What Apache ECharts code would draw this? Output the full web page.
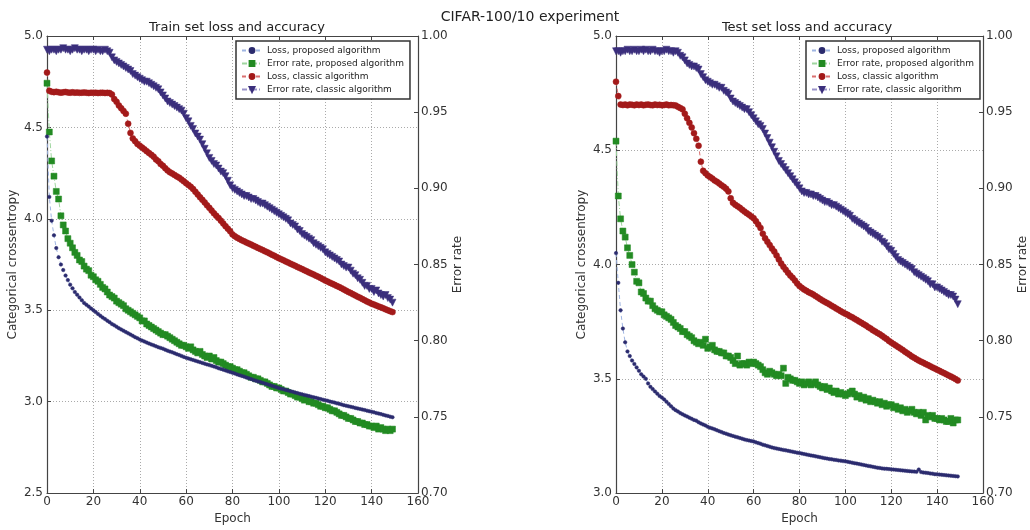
<!DOCTYPE html>
<html><head><meta charset="utf-8">
<script src="https://cdn.jsdelivr.net/npm/echarts@6/dist/echarts.min.js"></script>
<style>html,body{margin:0;padding:0;background:#fff}#c{width:1030px;height:530px}</style>
</head><body><div id="c"></div>
<script>
const seriesNames = ['Loss, proposed algorithm','Error rate, proposed algorithm','Loss, classic algorithm','Error rate, classic algorithm'];
const xTicks = [0,20,40,60,80,100,120,140,160];

// Train set
const trainLossProposed = [4.45,4.12,3.99,3.91,3.84,3.79,3.75,3.72,3.69,3.665,
3.64,3.62,3.60,3.585,3.57,3.555,3.54,3.53,3.52,3.51,
3.50,3.49,3.48,3.47,3.46,3.452,3.443,3.435,3.425,3.418,
3.41,3.402,3.395,3.388,3.381,3.374,3.367,3.36,3.353,3.347,
3.34,3.334,3.329,3.323,3.318,3.313,3.308,3.303,3.298,3.294,
3.29,3.284,3.279,3.274,3.27,3.265,3.26,3.255,3.25,3.245,
3.24,3.236,3.232,3.228,3.224,3.22,3.216,3.212,3.208,3.204,
3.20,3.196,3.192,3.188,3.183,3.179,3.175,3.171,3.166,3.162,
3.158,3.154,3.149,3.145,3.141,3.137,3.132,3.128,3.124,3.119,
3.115,3.111,3.107,3.103,3.099,3.095,3.091,3.087,3.083,3.079,
3.075,3.071,3.068,3.064,3.061,3.057,3.054,3.05,3.047,3.043,
3.04,3.037,3.034,3.031,3.027,3.024,3.021,3.018,3.014,3.011,
3.008,3.005,3.001,2.998,2.995,2.991,2.988,2.985,2.981,2.978,
2.975,2.972,2.969,2.966,2.963,2.96,2.957,2.954,2.951,2.948,
2.945,2.942,2.938,2.935,2.932,2.928,2.925,2.922,2.918,2.915];
const trainErrProposed = [0.969,0.937,0.918,0.908,0.898,0.893,0.882,0.876,0.872,0.867,
0.864,0.861,0.858,0.856,0.853,0.852,0.849,0.847,0.846,0.843,
0.842,0.840,0.839,0.837,0.835,0.834,0.832,0.830,0.829,0.828,
0.826,0.825,0.824,0.823,0.821,0.820,0.819,0.818,0.817,0.816,
0.815,0.813,0.813,0.811,0.810,0.809,0.808,0.807,0.806,0.805,
0.804,0.804,0.803,0.802,0.801,0.800,0.799,0.798,0.797,0.797,
0.796,0.795,0.796,0.794,0.793,0.792,0.793,0.791,0.790,0.789,
0.790,0.788,0.789,0.787,0.786,0.786,0.785,0.784,0.783,0.783,
0.782,0.781,0.781,0.780,0.779,0.779,0.778,0.777,0.776,0.776,
0.775,0.775,0.774,0.773,0.773,0.772,0.771,0.770,0.770,0.769,
0.769,0.768,0.767,0.767,0.766,0.765,0.765,0.764,0.763,0.763,
0.762,0.761,0.762,0.760,0.760,0.759,0.759,0.758,0.757,0.757,
0.756,0.756,0.755,0.754,0.754,0.753,0.752,0.751,0.751,0.750,
0.749,0.749,0.748,0.747,0.747,0.746,0.746,0.745,0.745,0.744,
0.744,0.743,0.744,0.742,0.743,0.742,0.741,0.742,0.741,0.742];
const trainLossClassic = [4.80,4.70,4.695,4.693,4.695,4.692,4.69,4.692,4.694,4.691,
4.69,4.692,4.69,4.691,4.689,4.69,4.691,4.69,4.688,4.69,
4.689,4.69,4.688,4.689,4.69,4.688,4.689,4.688,4.68,4.655,
4.64,4.62,4.605,4.59,4.575,4.52,4.47,4.44,4.425,4.41,
4.40,4.39,4.38,4.37,4.36,4.35,4.34,4.325,4.315,4.30,
4.29,4.277,4.265,4.255,4.248,4.24,4.232,4.225,4.215,4.205,
4.195,4.185,4.175,4.163,4.148,4.133,4.118,4.104,4.09,4.074,
4.06,4.045,4.03,4.017,4.004,3.99,3.975,3.96,3.946,3.932,
3.915,3.905,3.897,3.89,3.883,3.877,3.871,3.865,3.859,3.853,
3.847,3.841,3.835,3.829,3.823,3.817,3.811,3.804,3.798,3.791,
3.785,3.779,3.773,3.767,3.761,3.755,3.749,3.743,3.737,3.731,
3.725,3.719,3.713,3.707,3.701,3.695,3.689,3.683,3.677,3.67,
3.663,3.657,3.651,3.645,3.639,3.633,3.627,3.621,3.614,3.607,
3.60,3.594,3.587,3.581,3.574,3.568,3.561,3.555,3.548,3.542,
3.536,3.531,3.526,3.521,3.516,3.511,3.505,3.50,3.495,3.49];
const trainErrClassic = [0.991,0.990,0.991,0.991,0.990,0.991,0.991,0.992,0.991,0.991,
0.990,0.991,0.992,0.991,0.991,0.990,0.991,0.991,0.990,0.991,
0.991,0.990,0.991,0.990,0.990,0.991,0.990,0.989,0.986,0.984,
0.983,0.982,0.981,0.980,0.979,0.978,0.977,0.975,0.974,0.973,
0.972,0.971,0.970,0.970,0.969,0.968,0.967,0.966,0.965,0.963,
0.961,0.959,0.957,0.956,0.955,0.954,0.953,0.952,0.951,0.949,
0.946,0.944,0.941,0.939,0.936,0.934,0.932,0.929,0.926,0.923,
0.920,0.918,0.916,0.915,0.913,0.911,0.910,0.908,0.905,0.902,
0.900,0.899,0.898,0.897,0.896,0.895,0.895,0.894,0.893,0.893,
0.892,0.891,0.890,0.890,0.889,0.888,0.887,0.886,0.885,0.884,
0.883,0.882,0.881,0.880,0.879,0.877,0.876,0.875,0.873,0.872,
0.870,0.869,0.868,0.867,0.866,0.864,0.863,0.862,0.861,0.860,
0.858,0.857,0.856,0.855,0.854,0.853,0.852,0.850,0.849,0.848,
0.848,0.846,0.844,0.843,0.841,0.840,0.838,0.836,0.836,0.834,
0.834,0.832,0.833,0.831,0.830,0.829,0.830,0.828,0.827,0.825];

// Test set
const testLossProposed = [4.05,3.92,3.80,3.72,3.66,3.62,3.60,3.58,3.565,3.55,
3.535,3.52,3.51,3.50,3.48,3.465,3.455,3.445,3.435,3.425,
3.418,3.41,3.40,3.39,3.38,3.37,3.363,3.357,3.35,3.345,
3.34,3.335,3.33,3.325,3.32,3.317,3.31,3.305,3.30,3.296,
3.29,3.286,3.283,3.279,3.275,3.271,3.267,3.263,3.26,3.256,
3.253,3.25,3.247,3.244,3.241,3.238,3.235,3.232,3.23,3.228,
3.226,3.222,3.219,3.216,3.212,3.209,3.206,3.203,3.2,3.197,
3.195,3.193,3.191,3.189,3.187,3.185,3.183,3.181,3.179,3.177,
3.175,3.173,3.171,3.169,3.167,3.165,3.163,3.161,3.159,3.157,
3.155,3.153,3.151,3.149,3.148,3.146,3.145,3.143,3.142,3.14,
3.139,3.137,3.135,3.133,3.131,3.129,3.127,3.125,3.123,3.121,
3.119,3.117,3.115,3.113,3.111,3.11,3.108,3.107,3.106,3.105,
3.104,3.103,3.102,3.101,3.1,3.099,3.098,3.097,3.096,3.095,
3.094,3.093,3.103,3.092,3.09,3.089,3.088,3.086,3.085,3.083,
3.082,3.081,3.08,3.079,3.078,3.077,3.076,3.075,3.074,3.073];
const testErrProposed = [0.931,0.895,0.880,0.872,0.868,0.861,0.856,0.850,0.845,0.839,
0.838,0.832,0.831,0.828,0.826,0.826,0.823,0.821,0.820,0.819,
0.819,0.817,0.816,0.815,0.814,0.812,0.810,0.809,0.808,0.806,
0.806,0.804,0.803,0.802,0.800,0.799,0.798,0.799,0.797,0.801,
0.795,0.796,0.797,0.794,0.793,0.793,0.792,0.792,0.790,0.790,
0.789,0.787,0.785,0.790,0.784,0.785,0.785,0.784,0.786,0.785,
0.786,0.785,0.784,0.783,0.781,0.779,0.778,0.780,0.779,0.778,
0.777,0.778,0.777,0.782,0.772,0.776,0.775,0.774,0.774,0.773,
0.772,0.773,0.771,0.772,0.773,0.771,0.772,0.773,0.771,0.770,
0.769,0.770,0.768,0.769,0.767,0.766,0.767,0.765,0.766,0.765,
0.764,0.765,0.766,0.767,0.765,0.763,0.764,0.762,0.763,0.761,
0.762,0.760,0.761,0.760,0.759,0.760,0.758,0.759,0.757,0.758,
0.758,0.756,0.757,0.755,0.756,0.754,0.755,0.753,0.754,0.755,
0.753,0.752,0.753,0.751,0.753,0.748,0.751,0.750,0.751,0.749,
0.749,0.748,0.749,0.748,0.747,0.747,0.749,0.746,0.748,0.748];
const testLossClassic = [4.80,4.737,4.70,4.698,4.70,4.697,4.70,4.699,4.697,4.70,
4.698,4.70,4.697,4.699,4.70,4.698,4.697,4.70,4.698,4.699,
4.697,4.698,4.70,4.697,4.698,4.697,4.696,4.69,4.685,4.679,
4.66,4.64,4.62,4.60,4.575,4.55,4.52,4.45,4.41,4.40,
4.39,4.383,4.376,4.368,4.362,4.355,4.347,4.34,4.332,4.32,
4.29,4.27,4.262,4.255,4.248,4.24,4.232,4.225,4.218,4.21,
4.203,4.19,4.175,4.16,4.135,4.115,4.10,4.085,4.07,4.057,
4.04,4.022,4.005,3.99,3.977,3.964,3.952,3.942,3.93,3.917,
3.906,3.898,3.891,3.885,3.879,3.874,3.869,3.862,3.856,3.849,
3.843,3.837,3.832,3.826,3.82,3.814,3.808,3.802,3.796,3.79,
3.785,3.78,3.774,3.769,3.763,3.757,3.751,3.745,3.739,3.733,
3.726,3.72,3.713,3.707,3.701,3.695,3.688,3.681,3.674,3.666,
3.659,3.652,3.646,3.639,3.633,3.626,3.619,3.612,3.605,3.598,
3.592,3.586,3.58,3.575,3.57,3.565,3.56,3.555,3.55,3.545,
3.54,3.535,3.53,3.525,3.52,3.515,3.51,3.505,3.499,3.493];
const testErrClassic = [0.990,0.990,0.989,0.990,0.990,0.991,0.990,0.990,0.991,0.990,
0.990,0.991,0.990,0.991,0.990,0.990,0.991,0.990,0.990,0.989,
0.990,0.990,0.991,0.990,0.990,0.989,0.990,0.989,0.987,0.986,
0.984,0.982,0.981,0.980,0.980,0.979,0.978,0.975,0.973,0.971,
0.970,0.969,0.968,0.968,0.967,0.966,0.966,0.964,0.963,0.962,
0.959,0.957,0.956,0.955,0.954,0.953,0.952,0.952,0.950,0.948,
0.946,0.944,0.942,0.941,0.939,0.936,0.933,0.930,0.927,0.924,
0.921,0.918,0.916,0.914,0.912,0.910,0.908,0.906,0.904,0.902,
0.900,0.898,0.897,0.897,0.896,0.896,0.895,0.895,0.894,0.893,
0.892,0.891,0.891,0.890,0.889,0.889,0.888,0.887,0.886,0.885,
0.884,0.883,0.882,0.880,0.879,0.878,0.877,0.876,0.875,0.874,
0.872,0.871,0.870,0.869,0.868,0.867,0.865,0.864,0.862,0.860,
0.859,0.857,0.855,0.853,0.852,0.851,0.850,0.849,0.848,0.847,
0.845,0.844,0.843,0.842,0.841,0.840,0.839,0.837,0.837,0.835,
0.835,0.834,0.833,0.832,0.831,0.830,0.830,0.829,0.827,0.824];

const FONT = 'DejaVu Sans';
const pairs = arr => arr.map((v, i) => [i, v]);

const styles = [
  {symbol:'circle', symbolSize:3.5, color:'#2b2b6e', line:'#9fb5e2', dash:[4,3]},
  {symbol:'rect', symbolSize:6, color:'#238b23', line:'#9fd69f', dash:[5,2,1,2]},
  {symbol:'circle', symbolSize:6, color:'#a31a1a', line:'#d97070', dash:[4,3]},
  {symbol:'triangle', symbolSize:7, color:'#3b2f7c', line:'#9a93c9', dash:[5,2,1,2], rotate:180}
];

function mkSeries(gi, arrs) {
  return arrs.map((arr, k) => ({
    name: seriesNames[k], type:'line',
    xAxisIndex: gi*2, yAxisIndex: gi*2 + (k % 2 === 1 ? 1 : 0),
    data: pairs(arr),
    symbol: styles[k].symbol, symbolSize: styles[k].symbolSize,
    symbolRotate: styles[k].rotate || 0,
    showSymbol: true,
    itemStyle: {color: styles[k].color, borderColor: styles[k].color, borderWidth: 0.5},
    lineStyle: {color: styles[k].line, width: 1, type: styles[k].dash},
    z: k === 0 ? 5 : 3
  }));
}

const axisLineStyle = {show:true, onZero:false, lineStyle:{color:'#444', width:1.2}};
const tickStyle = {show:true, inside:true, length:4, lineStyle:{color:'#444'}};
const labelStyle = {color:'#333', fontSize:12, fontFamily:FONT};

function xAxes(gi) {
  return [
    {gridIndex:gi, type:'value', min:0, max:160, interval:20, position:'bottom',
     name:'Epoch', nameLocation:'middle', nameGap:19,
     nameTextStyle:{color:'#333', fontSize:12, fontFamily:FONT},
     axisLine:axisLineStyle, axisTick:tickStyle,
     axisLabel:Object.assign({margin:3}, labelStyle),
     splitLine:{show:true, lineStyle:{color:'#aaa', type:[1,2], width:1}}},
    {gridIndex:gi, type:'value', min:0, max:160, interval:20, position:'top',
     axisLine:axisLineStyle, axisTick:tickStyle, axisLabel:{show:false}, splitLine:{show:false}}
  ];
}
function yAxes(gi, lmin) {
  return [
    {gridIndex:gi, type:'value', min:lmin, max:5.0, interval:0.5, position:'left',
     name:'Categorical crossentropy', nameLocation:'middle', nameGap:28, nameRotate:90,
     nameTextStyle:{color:'#333', fontSize:12, fontFamily:FONT},
     axisLine:axisLineStyle, axisTick:tickStyle,
     axisLabel:Object.assign({margin:4, formatter:v=>v.toFixed(1)}, labelStyle),
     splitLine:{show:true, lineStyle:{color:'#aaa', type:[1,2], width:1}}},
    {gridIndex:gi, type:'value', min:0.70, max:1.00, interval:0.05, position:'right',
     name:'Error rate', nameLocation:'middle', nameGap:34, nameRotate:90,
     nameTextStyle:{color:'#333', fontSize:12, fontFamily:FONT},
     axisLine:axisLineStyle, axisTick:tickStyle,
     axisLabel:Object.assign({margin:3, formatter:v=>v.toFixed(2)}, labelStyle),
     splitLine:{show:false}}
  ];
}

function legend(left) {
  return {
    left: left, top: 41, orient:'vertical',
    backgroundColor:'#fff', borderColor:'#333', borderWidth:1.5, borderRadius:0,
    padding:[5,6,5,5], itemGap:4, itemWidth:20, itemHeight:6,
    textStyle:{fontSize:9, color:'#222', fontFamily:FONT},
    data: seriesNames
  };
}

const chart = echarts.init(document.getElementById('c'), null, {renderer:'canvas'});
chart.setOption({
  animation:false,
  backgroundColor:'#fff',
  title:[
    {text:'CIFAR-100/10 experiment', left:525, top:5, textAlign:'center',
     textStyle:{fontSize:14, fontWeight:'normal', color:'#222', fontFamily:FONT}},
    {text:'Train set loss and accuracy', left:232, top:16, textAlign:'center',
     textStyle:{fontSize:13, fontWeight:'normal', color:'#222', fontFamily:FONT}},
    {text:'Test set loss and accuracy', left:802, top:16, textAlign:'center',
     textStyle:{fontSize:13, fontWeight:'normal', color:'#222', fontFamily:FONT}}
  ],
  legend:[legend(236), legend(806)],
  grid:[
    {left:47, right:612, top:36, bottom:33, show:false},
    {left:616, right:42, top:36, bottom:33, show:false}
  ],
  xAxis: xAxes(0).concat(xAxes(1)),
  yAxis: yAxes(0, 2.5).concat(yAxes(1, 3.0)),
  series: mkSeries(0, [trainLossProposed, trainErrProposed, trainLossClassic, trainErrClassic])
    .concat(mkSeries(1, [testLossProposed, testErrProposed, testLossClassic, testErrClassic]))
});
</script>
</body></html>
